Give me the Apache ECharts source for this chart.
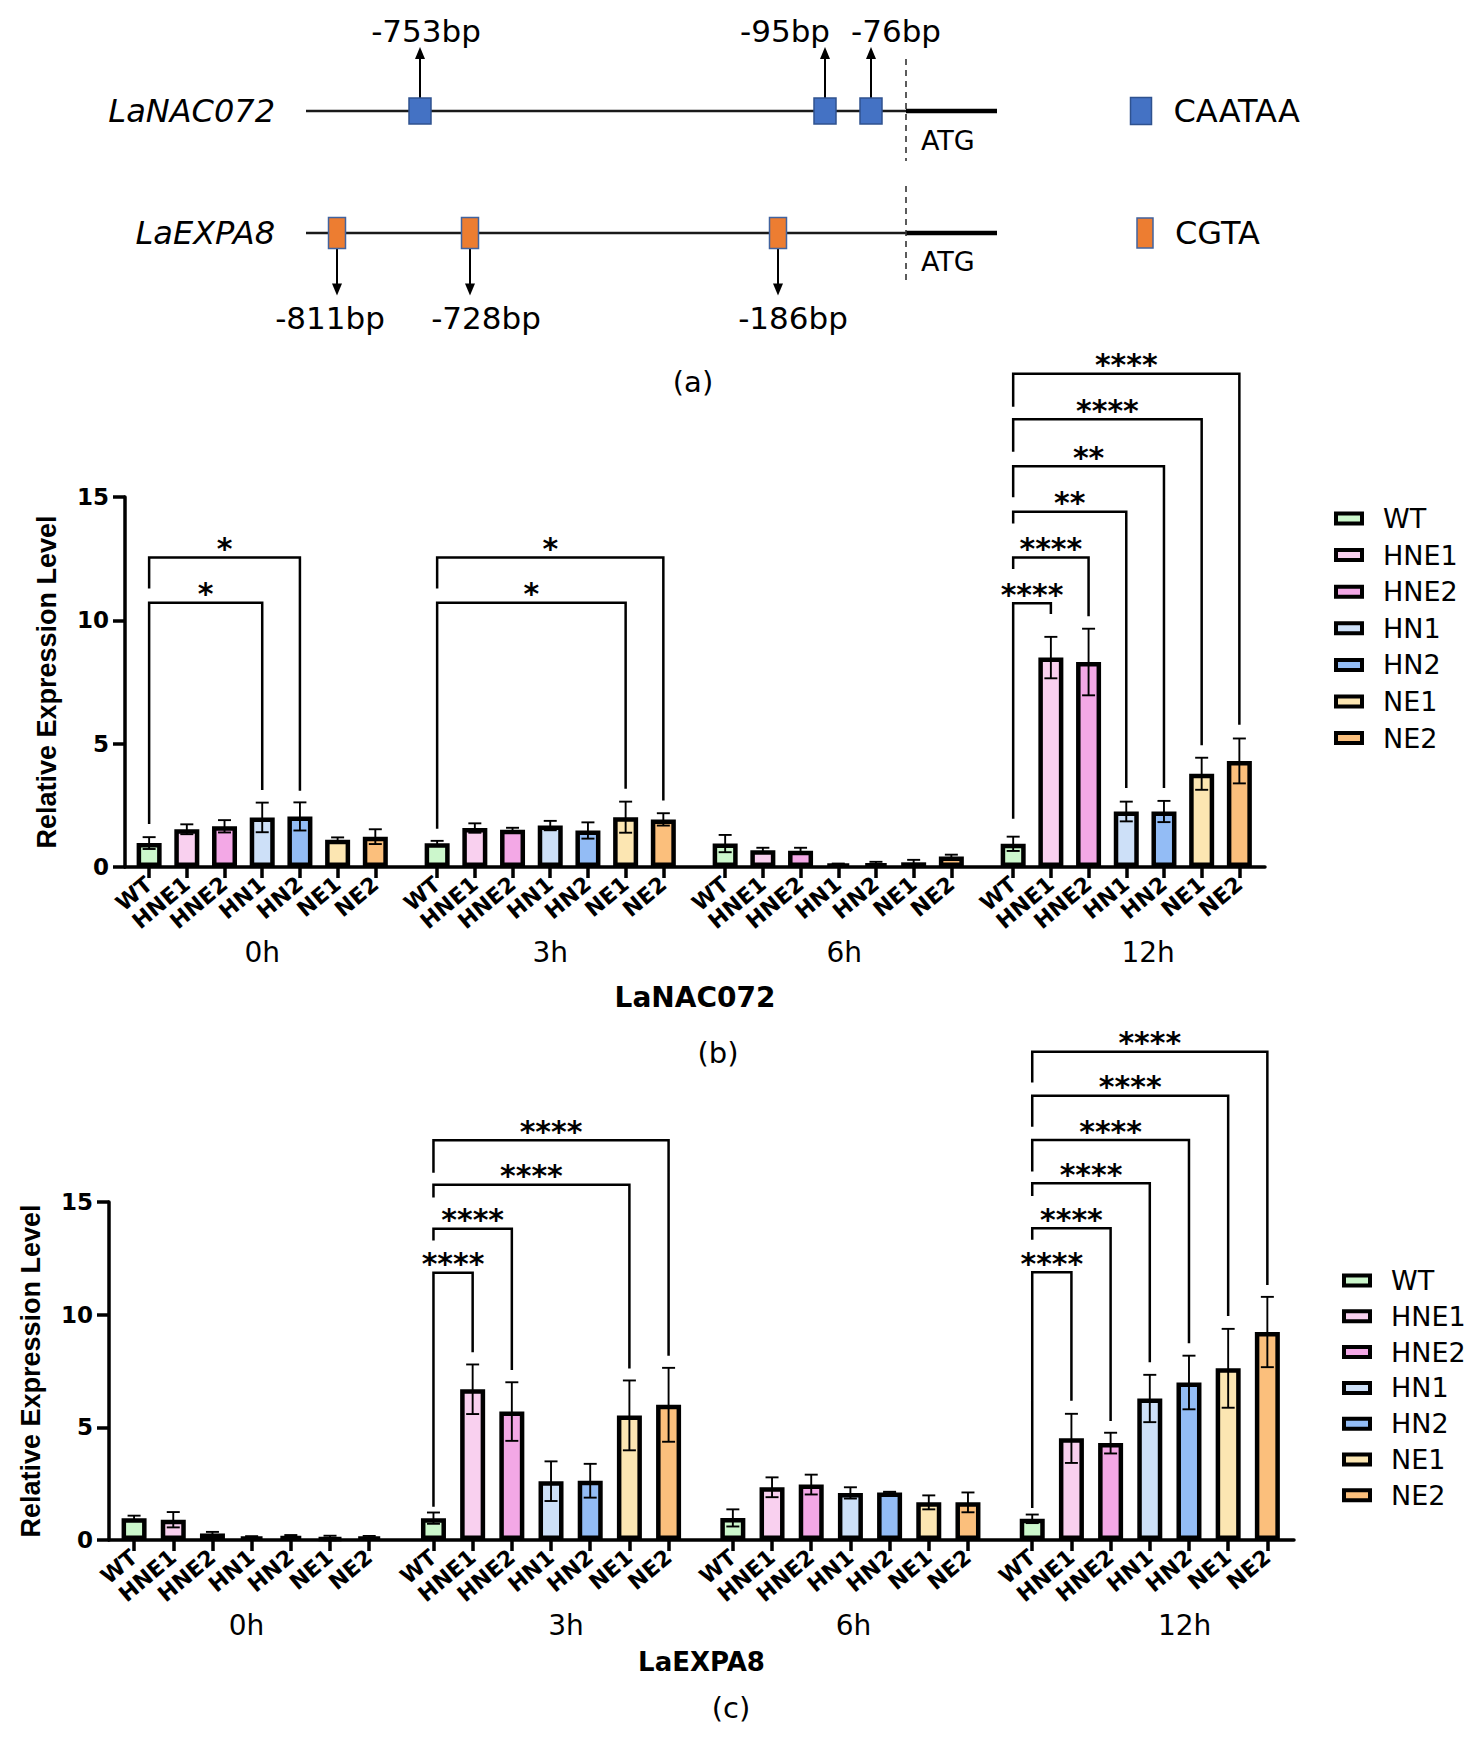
<!DOCTYPE html>
<html>
<head>
<meta charset="utf-8">
<script src="https://cdn.jsdelivr.net/npm/echarts@6/dist/echarts.min.js"></script>
<style>
  html, body { margin: 0; padding: 0; background: #fff; }
  #chart { width: 1476px; height: 1737px; }
</style>
</head>
<body>
<div id="chart"></div>
<script>
// ---- data ----
const genotypes = ['WT', 'HNE1', 'HNE2', 'HN1', 'HN2', 'NE1', 'NE2'];
const timepoints = ['0h', '3h', '6h', '12h'];
const barColors = ['#ccf7cc', '#f9d0ef', '#f3a8e6', '#cde0f8', '#93bcf5', '#fce6b2', '#fbbf7c'];

// (b) LaNAC072 relative expression, mean and error per time point
const nac0h = [0.97, 1.53, 1.65, 2.01, 2.05, 1.10, 1.23];
const nacErr0h = [0.24, 0.20, 0.25, 0.60, 0.57, 0.10, 0.30];
const nac3h = [0.96, 1.58, 1.51, 1.68, 1.48, 2.02, 1.93];
const nacErr3h = [0.10, 0.19, 0.08, 0.19, 0.33, 0.63, 0.25];
const nac6h = [0.95, 0.68, 0.66, 0.12, 0.14, 0.19, 0.43];
const nacErr6h = [0.35, 0.10, 0.12, 0.02, 0.07, 0.10, 0.07];
const nac12h = [0.94, 8.49, 8.31, 2.25, 2.25, 3.78, 4.30];
const nacErr12h = [0.29, 0.84, 1.35, 0.40, 0.43, 0.65, 0.91];

// (c) LaEXPA8
const expa0h = [0.97, 0.90, 0.29, 0.14, 0.18, 0.09, 0.13];
const expaErr0h = [0.11, 0.34, 0.07, 0.03, 0.04, 0.10, 0.05];
const expa3h = [0.97, 6.69, 5.70, 2.61, 2.63, 5.53, 6.00];
const expaErr3h = [0.25, 1.10, 1.30, 0.88, 0.75, 1.55, 1.64];
const expa6h = [0.98, 2.34, 2.46, 2.09, 2.11, 1.67, 1.67];
const expaErr6h = [0.38, 0.44, 0.44, 0.25, 0.03, 0.31, 0.44];
const expa12h = [0.94, 4.51, 4.30, 6.28, 6.99, 7.62, 9.23];
const expaErr12h = [0.19, 1.09, 0.46, 1.05, 1.19, 1.75, 1.56];

// significance brackets: [time index, compared genotype, bar level, WT leg end, right leg end, label]
const nacSig = [
  [0, 3, 10.71, 1.74, 3.12, '*'],
  [0, 4, 12.55, 11.29, 3.09, '*'],
  [1, 5, 10.71, 1.55, 3.17, '*'],
  [1, 6, 12.55, 11.29, 2.70, '*'],
  [3, 1, 10.69, 1.96, 10.26, '****'],
  [3, 2, 12.55, 12.08, 10.17, '****'],
  [3, 3, 14.40, 13.93, 3.20, '**'],
  [3, 4, 16.25, 14.99, 3.20, '**'],
  [3, 5, 18.15, 16.83, 4.94, '****'],
  [3, 6, 20.00, 18.66, 5.77, '****']
];
const expaSig = [
  [1, 1, 11.86, 1.48, 8.33, '****'],
  [1, 2, 13.81, 13.29, 7.54, '****'],
  [1, 5, 15.76, 15.20, 7.61, '****'],
  [1, 6, 17.74, 16.30, 8.18, '****'],
  [3, 1, 11.88, 1.42, 6.18, '****'],
  [3, 2, 13.83, 13.32, 5.28, '****'],
  [3, 3, 15.83, 15.27, 7.89, '****'],
  [3, 4, 17.75, 16.35, 8.73, '****'],
  [3, 5, 19.71, 18.34, 9.94, '****'],
  [3, 6, 21.67, 20.30, 11.32, '****']
];

// (a) promoter elements; positions are drawn distances left of ATG (diagram is not to scale)
const promoterGenes = ['LaNAC072', 'LaEXPA8'];
const motifs = ['CAATAA', 'CGTA'];
const nacSites = ['-753bp', '-95bp', '-76bp'];
const nacSitePos = [-486, -81, -35];
const expaSites = ['-811bp', '-728bp', '-186bp'];
const expaSitePos = [-569, -436, -128];

// ---- layout ----
const FONT = '"DejaVu Sans", sans-serif';
const GROUP_STEP = 7.64;
const X_MIN = -0.64, X_MAX = 29.6;
const PROMOTER_START = -600, PROMOTER_END = 91;

function xPos(t, i) { return t * GROUP_STEP + i; }

const tickValues = [], tickNames = [];
timepoints.forEach((t, ti) => genotypes.forEach((g, gi) => {
  tickValues.push(xPos(ti, gi));
  tickNames.push(g);
}));

function nameAt(values, names, v) {
  let k = 0, best = Infinity;
  values.forEach((p, j) => {
    const d = Math.abs(p - v);
    if (d < best) { best = d; k = j; }
  });
  return names[k];
}

const promoterRows = [
  { gene: promoterGenes[0], sites: nacSites, pos: nacSitePos, motif: motifs[0], fill: '#4472c4', stroke: '#2f528f' },
  { gene: promoterGenes[1], sites: expaSites, pos: expaSitePos, motif: motifs[1], fill: '#ed7d31', stroke: '#41639f' }
];
const rowLayout = [
  { boxW: 22, boxH: 26, dir: -1, arrowLen: 51, labelY: -80, labelShift: [6, -40, 25],
    dashTop: -52, dashBottom: 50, atgY: 30, keyX: 235, keyW: 21, keyH: 27 },
  { boxW: 17, boxH: 31, dir: 1, arrowLen: 47, labelY: 85, labelShift: [-7, 16, 15],
    dashTop: -47, dashBottom: 48, atgY: 29, keyX: 239, keyW: 16, keyH: 30 }
];

function renderPromoter(params, api) {
  const r = api.value(1);
  const row = promoterRows[r];
  const L = rowLayout[r];
  const y = api.coord([0, r])[1];
  const xs = api.coord([PROMOTER_START, r])[0];
  const xa = api.coord([0, r])[0];
  const xe = api.coord([PROMOTER_END, r])[0];
  const kids = [];
  kids.push({ type: 'line', shape: { x1: xs, y1: y, x2: xa, y2: y }, style: { stroke: '#1a1a1a', lineWidth: 2.4 } });
  kids.push({ type: 'line', shape: { x1: xa, y1: y, x2: xe, y2: y }, style: { stroke: '#000', lineWidth: 4.5 } });
  kids.push({ type: 'line', shape: { x1: xa, y1: y + L.dashTop, x2: xa, y2: y + L.dashBottom },
    style: { stroke: '#333', lineWidth: 1.6, lineDash: [6, 5] } });
  kids.push({ type: 'text', style: { text: 'ATG', x: xa + 15, y: y + L.atgY, align: 'left', verticalAlign: 'middle',
    fontSize: 27, fontFamily: FONT, fill: '#000' } });
  kids.push({ type: 'text', style: { text: row.gene, x: xs - 31, y: y, align: 'right', verticalAlign: 'middle',
    fontSize: 32, fontStyle: 'italic', fontFamily: FONT, fill: '#000' } });
  row.pos.forEach((p, k) => {
    const xb = api.coord([p, r])[0];
    const edge = y + L.dir * L.boxH / 2;
    const tip = edge + L.dir * L.arrowLen;
    kids.push({ type: 'line', shape: { x1: xb, y1: edge, x2: xb, y2: tip - L.dir * 10 }, style: { stroke: '#000', lineWidth: 2 } });
    kids.push({ type: 'polygon', shape: { points: [[xb - 5, tip - L.dir * 12], [xb + 5, tip - L.dir * 12], [xb, tip]] },
      style: { fill: '#000' } });
    kids.push({ type: 'rect', shape: { x: xb - L.boxW / 2, y: y - L.boxH / 2, width: L.boxW, height: L.boxH },
      style: { fill: row.fill, stroke: row.stroke, lineWidth: 1.5 } });
    kids.push({ type: 'text', style: { text: row.sites[k], x: xb + L.labelShift[k], y: y + L.labelY, align: 'center',
      verticalAlign: 'middle', fontSize: 31, fontFamily: FONT, fill: '#000' } });
  });
  const xk = api.coord([L.keyX, r])[0];
  kids.push({ type: 'rect', shape: { x: xk - L.keyW / 2, y: y - L.keyH / 2, width: L.keyW, height: L.keyH },
    style: { fill: row.fill, stroke: row.stroke, lineWidth: 1.5 } });
  kids.push({ type: 'text', style: { text: row.motif, x: xk + L.keyW / 2 + 22, y: y, align: 'left', verticalAlign: 'middle',
    fontSize: 32, fontFamily: FONT, fill: '#000' } });
  return { type: 'group', children: kids };
}

function renderErrorBar(params, api) {
  const x = api.value(0), m = api.value(1), e = api.value(2);
  const top = api.coord([x, m + e]);
  const bot = api.coord([x, m - e]);
  const hw = 6.5;
  const st = { stroke: '#000', lineWidth: 1.9 };
  return {
    type: 'group',
    children: [
      { type: 'line', shape: { x1: top[0], y1: top[1], x2: bot[0], y2: bot[1] }, style: st },
      { type: 'line', shape: { x1: top[0] - hw, y1: top[1], x2: top[0] + hw, y2: top[1] }, style: st },
      { type: 'line', shape: { x1: bot[0] - hw, y1: bot[1], x2: bot[0] + hw, y2: bot[1] }, style: st }
    ]
  };
}

function bracketRenderer(sig) {
  return function (params, api) {
    const s = sig[params.dataIndex];
    const xa = xPos(s[0], 0), xb = xPos(s[0], s[1]);
    const p0 = api.coord([xa, s[3]]);
    const p1 = api.coord([xa, s[2]]);
    const p2 = api.coord([xb, s[2]]);
    const p3 = api.coord([xb, s[4]]);
    return {
      type: 'group',
      children: [
        { type: 'polyline', shape: { points: [p0, p1, p2, p3] }, style: { stroke: '#000', lineWidth: 2.5, fill: null } },
        { type: 'text', style: { text: s[5], x: (p1[0] + p2[0]) / 2, y: p1[1] - 9, align: 'center', verticalAlign: 'middle',
          fontSize: 30, fontWeight: 'bold', fontFamily: FONT, fill: '#000' } }
      ]
    };
  };
}

const panels = [
  { gene: 'LaNAC072', means: [nac0h, nac3h, nac6h, nac12h], errs: [nacErr0h, nacErr3h, nacErr6h, nacErr12h], sig: nacSig,
    grid: { left: 125, top: 497, width: 1140, height: 370 }, nameGap: 116, nameSize: 28,
    groupShift: [0, 0, 0.16, 0.58],
    legend: { left: 1329, top: 500, itemGap: 9.6 } },
  { gene: 'LaEXPA8', means: [expa0h, expa3h, expa6h, expa12h], errs: [expaErr0h, expaErr3h, expaErr6h, expaErr12h], sig: expaSig,
    grid: { left: 109, top: 1202, width: 1185, height: 338 }, nameGap: 109, nameSize: 26,
    groupShift: [-0.13, 0.38, 0.08, 0.89],
    legend: { left: 1337, top: 1262, itemGap: 8.8 } }
];

const grids = [{ left: 0, top: 0, width: 1476, height: 400, containLabel: false, outerBoundsMode: 'none' }];
const xAxes = [{ gridIndex: 0, type: 'value', min: -906, max: 570, show: false }];
const yAxes = [{ gridIndex: 0, type: 'value', min: -0.91, max: 2.37, inverse: true, show: false }];
const series = [{
  type: 'custom', xAxisIndex: 0, yAxisIndex: 0, silent: true,
  data: promoterRows.map((r, i) => [0, i]), encode: { x: 0, y: 1 }, renderItem: renderPromoter
}];
const legends = [];

panels.forEach((p) => {
  const gi = grids.length;
  grids.push(Object.assign({ containLabel: false, outerBoundsMode: 'none' }, p.grid));
  const groupLabelPos = timepoints.map((t, ti) => xPos(ti, 3) + p.groupShift[ti]);
  const xi = xAxes.length;
  xAxes.push({
    gridIndex: gi, type: 'value', min: X_MIN, max: X_MAX, position: 'bottom',
    axisLine: { show: true, onZero: false, lineStyle: { color: '#000', width: 3.5 } },
    axisTick: { show: true, customValues: tickValues, length: 11, lineStyle: { color: '#000', width: 3.5 } },
    axisLabel: { show: true, customValues: tickValues, formatter: v => nameAt(tickValues, tickNames, v), rotate: 40, margin: 14,
      fontFamily: FONT, fontWeight: 'bold', fontSize: 22, color: '#000' },
    splitLine: { show: false }
  });
  xAxes.push({
    gridIndex: gi, type: 'value', min: X_MIN, max: X_MAX, position: 'bottom',
    axisLine: { show: false, onZero: false }, axisTick: { show: false }, splitLine: { show: false },
    axisLabel: { show: true, customValues: groupLabelPos, formatter: v => nameAt(groupLabelPos, timepoints, v), margin: 71,
      fontFamily: FONT, fontSize: 28, color: '#000' },
    name: p.gene, nameLocation: 'middle', nameGap: p.nameGap,
    nameTextStyle: { fontFamily: FONT, fontWeight: 'bold', fontSize: p.nameSize, color: '#000' }
  });
  const yi = yAxes.length;
  yAxes.push({
    gridIndex: gi, type: 'value', min: 0, max: 15, interval: 5,
    axisLine: { show: true, onZero: false, lineStyle: { color: '#000', width: 3.5 } },
    axisTick: { show: true, length: 12, lineStyle: { color: '#000', width: 3.5 } },
    axisLabel: { fontFamily: FONT, fontWeight: 'bold', fontSize: 23, color: '#000', margin: 16 },
    splitLine: { show: false },
    name: 'Relative Expression Level', nameLocation: 'middle', nameRotate: 90, nameGap: 65,
    nameTextStyle: { fontFamily: '"Liberation Sans", Arial, sans-serif', fontWeight: 'bold', fontSize: 27, color: '#000' }
  });

  genotypes.forEach((g, gIdx) => {
    series.push({
      type: 'bar', name: g, xAxisIndex: xi, yAxisIndex: yi, barWidth: 25, barGap: '-100%',
      itemStyle: { color: barColors[gIdx], borderColor: '#000', borderWidth: 4.5 },
      data: timepoints.map((t, ti) => [xPos(ti, gIdx), p.means[ti][gIdx]]),
      z: 2
    });
  });

  const errData = [];
  timepoints.forEach((t, ti) => genotypes.forEach((g, gIdx) => {
    errData.push([xPos(ti, gIdx), p.means[ti][gIdx], p.errs[ti][gIdx]]);
  }));
  series.push({
    type: 'custom', xAxisIndex: xi, yAxisIndex: yi, silent: true, z: 4,
    data: errData, encode: { x: 0, y: 1 }, renderItem: renderErrorBar
  });
  series.push({
    type: 'custom', xAxisIndex: xi, yAxisIndex: yi, silent: true, z: 4, clip: false,
    data: p.sig.map(s => [xPos(s[0], 0), s[2]]), encode: { x: 0, y: 1 }, renderItem: bracketRenderer(p.sig)
  });

  legends.push({
    orient: 'vertical', left: p.legend.left, top: p.legend.top, itemGap: p.legend.itemGap,
    itemWidth: 26, itemHeight: 10, icon: 'rect', selectedMode: false, data: genotypes,
    itemStyle: { borderColor: '#000', borderWidth: 4 },
    textStyle: { fontFamily: FONT, fontSize: 27, lineHeight: 25, color: '#000', padding: [0, 0, 0, 16] }
  });
});

const labelStyle = { fontFamily: FONT, fontSize: 29, fontWeight: 'normal', color: '#000' };
const option = {
  backgroundColor: '#fff',
  animation: false,
  title: [
    { text: '(a)', left: 688, top: 362, textAlign: 'center', textStyle: labelStyle },
    { text: '(b)', left: 713, top: 1033, textAlign: 'center', textStyle: labelStyle },
    { text: '(c)', left: 726, top: 1688, textAlign: 'center', textStyle: labelStyle }
  ],
  grid: grids,
  xAxis: xAxes,
  yAxis: yAxes,
  legend: legends,
  series: series
};

const chart = echarts.init(document.getElementById('chart'), null, { renderer: 'svg' });
chart.setOption(option);
</script>
</body>
</html>
